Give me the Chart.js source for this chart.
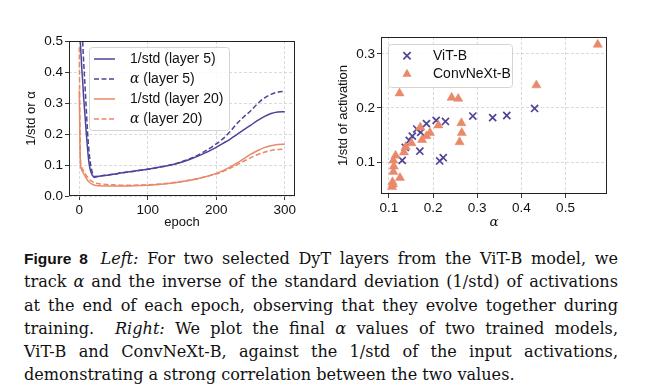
<!DOCTYPE html>
<html lang="en">
<head>
<meta charset="UTF-8">
<title>DyT: alpha and 1/std</title>
<script src="https://cdn.jsdelivr.net/npm/chart.js@4.4.1/dist/chart.umd.min.js"></script>
<style>
  body { margin: 0; width: 645px; height: 392px; background: #fff; position: relative; overflow: hidden; }
  canvas { position: absolute; top: 0; }
  #caption { position: absolute; left: 24px; top: 247px; width: 594px; font: 16.1px/23.3px "DejaVu Serif", serif; color: #111; }
  #caption div { text-align: justify; text-align-last: justify; white-space: nowrap; }
  #caption div.last { text-align-last: left; }
  .fig { font: bold 15.5px "Liberation Sans", Arial, sans-serif; margin-right: 4px; }
</style>
</head>
<body>
<canvas id="leftChart" width="310" height="235" style="left:0"></canvas>
<canvas id="rightChart" width="335" height="235" style="left:310px"></canvas>

<div id="caption">
  <div><span class="fig">Figure 8</span> <i>Left:</i> For two selected DyT layers from the ViT-B model, we</div>
  <div>track <i>α</i> and the inverse of the standard deviation (1/std) of activations</div>
  <div>at the end of each epoch, observing that they evolve together during</div>
  <div>training. &nbsp;<i>Right:</i> We plot the final <i>α</i> values of two trained models,</div>
  <div>ViT-B and ConvNeXt-B, against the 1/std of the input activations,</div>
  <div class="last">demonstrating a strong correlation between the two values.</div>
</div>

<script>
// left panel: per-epoch values for two DyT layers of ViT-B
const epochs = [0, 1, 2, 3, 4, 5, 6, 7, 8, 10, 12, 14, 16, 18, 20, 22, 25, 30, 40, 50, 60, 80, 100,
    120, 140, 160, 180, 200, 210, 220, 230, 240, 250, 260, 270, 280, 290, 300];
const stdLayer5 = [0.90, 0.55, 0.48, 0.44, 0.40, 0.37, 0.33, 0.30, 0.27, 0.21, 0.155, 0.11, 0.085, 0.072, 0.064, 0.060,
    0.062, 0.064, 0.067, 0.070, 0.074, 0.080, 0.086, 0.094, 0.103, 0.117, 0.135, 0.157, 0.170, 0.183, 0.198,
    0.213, 0.228, 0.243, 0.256, 0.266, 0.271, 0.272];
const alphaLayer5 = [1.20, 1.00, 0.85, 0.70, 0.58, 0.50, 0.45, 0.41, 0.37, 0.29, 0.21, 0.15, 0.11, 0.085, 0.070, 0.063,
    0.063, 0.065, 0.067, 0.070, 0.074, 0.080, 0.086, 0.094, 0.104, 0.119, 0.140, 0.168, 0.185, 0.207, 0.233,
    0.255, 0.274, 0.297, 0.316, 0.328, 0.335, 0.338];
const stdLayer20 = [0.34, 0.17, 0.095, 0.087, 0.082, 0.078, 0.074, 0.070, 0.066, 0.058, 0.051, 0.046, 0.042, 0.039,
    0.037, 0.035, 0.034, 0.033, 0.032, 0.032, 0.032, 0.033, 0.035, 0.038, 0.043, 0.050, 0.060, 0.073, 0.082,
    0.093, 0.106, 0.120, 0.134, 0.146, 0.156, 0.162, 0.166, 0.167];
const alphaLayer20 = [0.48, 0.22, 0.105, 0.095, 0.090, 0.086, 0.082, 0.078, 0.074, 0.067, 0.061, 0.056, 0.051, 0.048,
    0.045, 0.043, 0.041, 0.039, 0.037, 0.036, 0.035, 0.035, 0.036, 0.039, 0.044, 0.051, 0.060, 0.071, 0.079,
    0.089, 0.100, 0.112, 0.123, 0.133, 0.141, 0.147, 0.150, 0.151];

// right panel: final alpha vs 1/std of input activations
const vitAlpha = [0.430, 0.367, 0.335, 0.290, 0.228, 0.207, 0.185, 0.163, 0.172, 0.153, 0.146, 0.137, 0.130, 0.170, 0.215, 0.223];
const vitStd = [0.199, 0.186, 0.182, 0.185, 0.175, 0.177, 0.171, 0.161, 0.155, 0.148, 0.140, 0.127, 0.103, 0.120, 0.102, 0.108];
const convAlpha = [0.573, 0.434, 0.124, 0.242, 0.257, 0.264, 0.265, 0.260, 0.212, 0.171, 0.193, 0.185, 0.175, 0.151,
    0.138, 0.134, 0.115, 0.110, 0.111, 0.110, 0.125, 0.108, 0.107, 0.109];
const convStd = [0.317, 0.242, 0.227, 0.219, 0.217, 0.172, 0.154, 0.137, 0.168, 0.164, 0.154, 0.148, 0.141, 0.135,
    0.128, 0.118, 0.112, 0.103, 0.092, 0.082, 0.071, 0.063, 0.054, 0.059];

const epochTicks = [0, 100, 200, 300];
const leftYTicks = [0, 0.1, 0.2, 0.3, 0.4, 0.5];
const alphaTicks = [0.1, 0.2, 0.3, 0.4, 0.5];
const rightYTicks = [0.1, 0.2, 0.3];

const purple = '#4c4497';
const orange = '#e8896a';
const sans = '"Liberation Sans", Arial, sans-serif';
const tickFont = { family: sans, size: 13.5 };

const pts = (xs, ys) => xs.map((x, i) => ({ x: x, y: ys[i] }));

function axis(min, max, ticks, fmt, title, fit, titleFont, titlePad) {
    return {
        type: 'linear',
        min: min,
        max: max,
        afterBuildTicks: s => { s.ticks = ticks.map(v => ({ value: v })); },
        afterFit: s => { if (s.isHorizontal()) s.height = fit; else s.width = fit; },
        ticks: { font: tickFont, color: '#111', padding: 2, callback: fmt },
        grid: { color: '#d0d0d0', lineWidth: 0.8, tickLength: 4, tickColor: '#222', tickWidth: 0.9 },
        border: { display: false, dash: [3, 2] },
        title: { display: true, text: title, color: '#111', font: titleFont, padding: titlePad }
    };
}

// box round the plot area
const frame = {
    id: 'frame',
    afterDatasetsDraw(chart) {
        const { ctx, chartArea: a } = chart;
        ctx.save();
        ctx.strokeStyle = '#222';
        ctx.lineWidth = 1;
        ctx.strokeRect(a.left + 0.5, a.top + 0.5, a.width - 1, a.height - 1);
        ctx.restore();
    }
};

function drawLabel(ctx, text, x, y, size) {
    text.split(/(α)/).forEach(part => {
        if (!part) return;
        ctx.font = part === 'α' ? `italic ${size}px "DejaVu Serif"` : `${size}px ${sans}`;
        ctx.fillText(part, x, y);
        x += ctx.measureText(part).width;
    });
}

// legend drawn inside the plot area, like matplotlib's
const boxLegend = {
    id: 'boxLegend',
    afterDraw(chart, args, o) {
        const { ctx, chartArea: a } = chart;
        const x0 = a.left + o.dx, y0 = a.top + o.dy;
        ctx.save();
        ctx.beginPath();
        ctx.roundRect(x0 + 0.5, y0 + 0.5, o.w, o.h, 3);
        ctx.fillStyle = 'rgba(255,255,255,0.85)';
        ctx.fill();
        ctx.strokeStyle = '#d4d4d4';
        ctx.lineWidth = 1;
        ctx.stroke();
        chart.data.datasets.forEach((ds, i) => {
            const cy = y0 + o.first + i * o.step;
            const sx = x0 + o.sampleX;
            ctx.strokeStyle = ds.borderColor;
            ctx.fillStyle = ds.backgroundColor || ds.borderColor;
            if (ds.pointStyle === 'crossRot') {
                const h = 3.6;
                ctx.lineWidth = ds.borderWidth;
                ctx.beginPath();
                ctx.moveTo(sx - h, cy - h); ctx.lineTo(sx + h, cy + h);
                ctx.moveTo(sx - h, cy + h); ctx.lineTo(sx + h, cy - h);
                ctx.stroke();
            } else if (ds.pointStyle === 'triangle') {
                const r = ds.pointRadius;
                ctx.beginPath();
                ctx.moveTo(sx, cy - r);
                ctx.lineTo(sx + 0.866 * r, cy + 0.5 * r);
                ctx.lineTo(sx - 0.866 * r, cy + 0.5 * r);
                ctx.closePath();
                ctx.fill();
            } else {
                ctx.lineWidth = ds.borderWidth;
                ctx.setLineDash(ds.borderDash || []);
                ctx.beginPath();
                ctx.moveTo(sx, cy); ctx.lineTo(sx + o.sampleW, cy);
                ctx.stroke();
                ctx.setLineDash([]);
            }
            ctx.fillStyle = '#111';
            ctx.textBaseline = 'middle';
            drawLabel(ctx, ds.label, x0 + o.textX, cy, o.size);
        });
        ctx.restore();
    }
};

const lineSet = (label, ys, color, dash) => ({
    label: label,
    data: pts(epochs, ys),
    borderColor: color,
    borderWidth: 1.5,
    borderDash: dash,
    pointRadius: 0,
    cubicInterpolationMode: 'monotone'
});

new Chart(document.getElementById('leftChart'), {
    type: 'line',
    data: {
        datasets: [
            lineSet('1/std (layer 5)', stdLayer5, purple, []),
            lineSet('α (layer 5)', alphaLayer5, purple, [5, 2.5]),
            lineSet('1/std (layer 20)', stdLayer20, orange, []),
            lineSet('α (layer 20)', alphaLayer20, orange, [5, 2.5])
        ]
    },
    options: {
        responsive: false,
        animation: false,
        devicePixelRatio: 1,
        layout: { padding: { left: 24, top: 41, right: 15, bottom: 0 } },
        plugins: {
            legend: { display: false },
            tooltip: { enabled: false },
            boxLegend: { dx: 20, dy: 6, w: 140, h: 83, first: 12, step: 20, sampleX: 5, sampleW: 21, textX: 41, size: 14 }
        },
        scales: {
            x: axis(-15, 315, epochTicks, v => String(v), 'epoch', 39, { family: sans, size: 13 }, { top: 0, bottom: 4.5 }),
            y: axis(0, 0.5, leftYTicks, v => v.toFixed(1), '1/std or α', 45, { family: sans, size: 13 }, { top: 0, bottom: 0 })
        }
    },
    plugins: [frame, boxLegend]
});

new Chart(document.getElementById('rightChart'), {
    type: 'scatter',
    data: {
        datasets: [
            { label: 'ViT-B', data: pts(vitAlpha, vitStd), pointStyle: 'crossRot', pointRadius: 5, borderWidth: 1.7,
              borderColor: purple, backgroundColor: purple, order: 1 },
            { label: 'ConvNeXt-B', data: pts(convAlpha, convStd), pointStyle: 'triangle', pointRadius: 5.3, borderWidth: 0.5,
              borderColor: orange, backgroundColor: orange, order: 0 }
        ]
    },
    options: {
        responsive: false,
        animation: false,
        devicePixelRatio: 1,
        layout: { padding: { left: 26, top: 37, right: 38, bottom: 0 } },
        plugins: {
            legend: { display: false },
            tooltip: { enabled: false },
            boxLegend: { dx: 7, dy: 7, w: 124, h: 43, first: 11.7, step: 18.3, sampleX: 19, sampleW: 0, textX: 45, size: 14 }
        },
        scales: {
            x: axis(0.082, 0.594, alphaTicks, v => v.toFixed(1), 'α', 41, { family: '"DejaVu Serif"', size: 13.5, style: 'italic' }, { top: 0, bottom: 4 }),
            y: axis(0.041, 0.331, rightYTicks, v => v.toFixed(1), '1/std of activation', 45, { family: sans, size: 13 }, { top: 0, bottom: 0 })
        }
    },
    plugins: [frame, boxLegend]
});
</script>
</body>
</html>
